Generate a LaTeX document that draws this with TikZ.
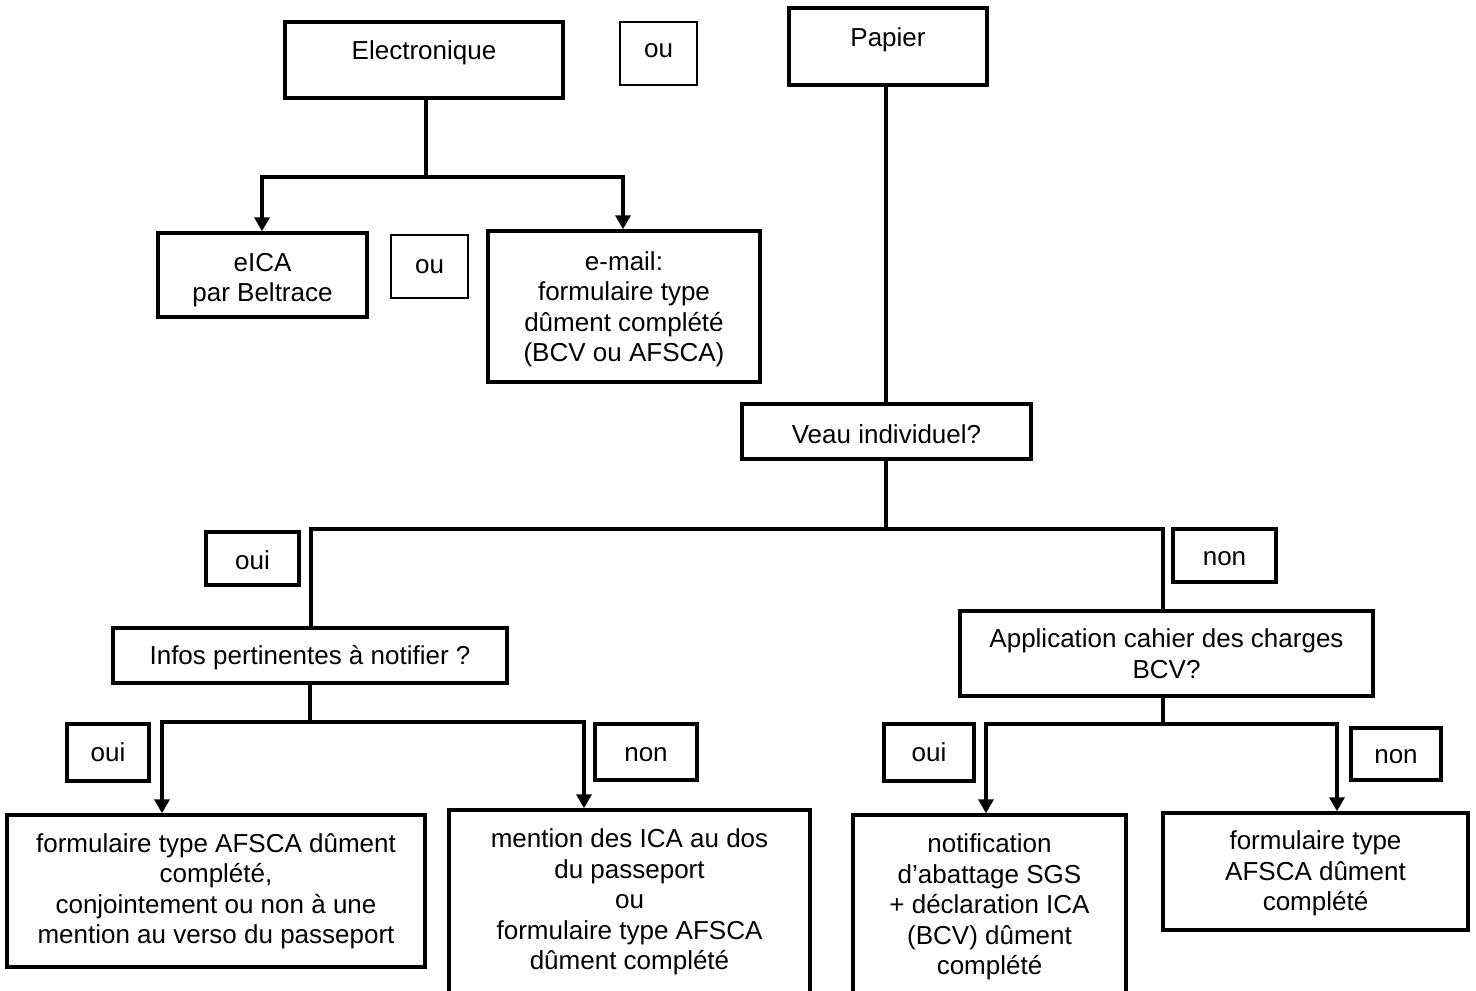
\documentclass[tikz,border=0pt]{standalone}
\usepackage{fontspec}
\setmainfont{Liberation Sans}
\usetikzlibrary{arrows.meta}
% name, cx, cy, width, height, style, text dy, text
\newcommand\mybx[8]{%
  \node[#6, minimum width=#4, minimum height=#5] (#1) at (#2,#3) {};
  \node[txt] (#1t) at (#2,#3+#7) {#8};}
\begin{document}
\begin{tikzpicture}[x=1pt,y=-1pt,
  >={Triangle[length=14pt,width=15pt]},
  box/.style={draw, line width=3.5pt, inner sep=0pt},
  thinbox/.style={box, line width=1.5pt},
  txt/.style={inner sep=0pt, align=center, font=\fontsize{26}{30.5}\selectfont},
  conn/.style={line width=3.5pt}]
\path[use as bounding box, clip] (0,0) rectangle (1476,991);

% top row
\mybx{elec}{424}{60}{278}{76}{box}{-7}{Electronique}
\mybx{ou1}{658.5}{53.5}{77}{63}{thinbox}{-2.5}{ou}
\mybx{pap}{888}{46.5}{198}{77}{box}{-6.5}{Papier}

% electronic branch
\mybx{eica}{262.5}{275}{209}{84}{box}{5}{eICA\\par Beltrace}
\mybx{ou2}{429.5}{266.5}{77}{63}{thinbox}{0}{ou}
\mybx{email}{624}{306.5}{272}{151}{box}{3}{e-mail:\\formulaire type\\dûment complété\\(BCV ou AFSCA)}

% paper branch
\mybx{veau}{886.5}{431.5}{289}{55}{box}{3}{Veau individuel?}
\mybx{oui1}{252.5}{558.5}{93}{53}{box}{2}{oui}
\mybx{non1}{1224.5}{555.5}{103}{53}{box}{3}{non}
\mybx{infos}{310}{655.5}{394}{55}{box}{2}{Infos pertinentes à notifier ?}
\mybx{app}{1166.5}{653.5}{413}{85}{box}{0}{Application cahier des charges\\BCV?}

\mybx{oui2}{108}{752.5}{82}{57}{box}{0}{oui}
\mybx{non2}{646}{752}{102}{56}{box}{3}{non}
\mybx{oui3}{929}{752.5}{90}{57}{box}{0}{oui}
\mybx{non3}{1396}{754}{90}{52}{box}{3}{non}

\mybx{form1}{216}{891}{418}{152}{box}{0}{formulaire type AFSCA dûment\\complété,\\conjointement ou non à une\\mention au verso du passeport}
\mybx{ment}{629.5}{910}{361}{200}{box}{-8}{mention des ICA au dos\\du passeport\\ou\\formulaire type AFSCA\\dûment complété}
\mybx{notif}{989.5}{912.5}{273}{195}{box}{-5.5}{notification\\d’abattage SGS\\+ déclaration ICA\\(BCV) dûment\\complété}
\mybx{form2}{1315.5}{871.5}{305}{117}{box}{2}{formulaire type\\AFSCA dûment\\complété}

% connectors
\coordinate (je) at (426,177);
\coordinate (je1) at (262,177);
\coordinate (je2) at (623,177);
\draw[conn] (je |- elec.south) -- (je);
\draw[conn,<->] (je1 |- eica.north) -- (je1) -- (je2) -- (je2 |- email.north);

\coordinate (jp) at (886,300);
\draw[conn] (jp |- pap.south) -- (jp |- veau.north);
\coordinate (jv) at (886,529);
\coordinate (jvl) at (311,529);
\coordinate (jvr) at (1163,529);
\draw[conn] (jv |- veau.south) -- (jv);
\draw[conn] (jvl |- infos.north) -- (jvl) -- (jvr) -- (jvr |- app.north);

\coordinate (ji) at (310,722);
\coordinate (ji1) at (162,722);
\coordinate (ji2) at (584,722);
\draw[conn] (ji |- infos.south) -- (ji);
\draw[conn,<->] (ji1 |- form1.north) -- (ji1) -- (ji2) -- (ji2 |- ment.north);

\coordinate (ja) at (1163,724);
\coordinate (ja1) at (986,724);
\coordinate (ja2) at (1337,724);
\draw[conn] (ja |- app.south) -- (ja);
\draw[conn,<->] (ja1 |- notif.north) -- (ja1) -- (ja2) -- (ja2 |- form2.north);
\end{tikzpicture}
\end{document}
